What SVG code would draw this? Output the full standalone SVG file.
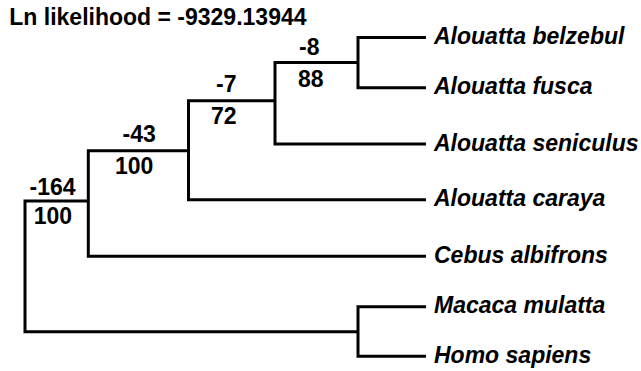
<svg xmlns="http://www.w3.org/2000/svg" width="641" height="371" viewBox="0 0 641 371">
<style>
.t{font-family:"Liberation Sans",Arial,sans-serif;font-weight:bold;font-size:23px;fill:#000}
.leaf{font-style:italic}
.br{fill:none;stroke:#000;stroke-width:3;stroke-linejoin:miter;stroke-linecap:butt}
</style>
<rect width="641" height="371" fill="#fff"/>
<text id="title" class="t" x="9.3" y="25">Ln likelihood = -9329.13944</text>
<g id="connectors">
<path class="br" d="M426,37.5 H358 V87.7 H426"/>
<path class="br" d="M358,62.5 H275 V144 H426"/>
<path class="br" d="M275,100.7 H188.5 V199.7 H426"/>
<path class="br" d="M188.5,150.7 H88.3 V256.3 H426"/>
<path class="br" d="M88.3,201 H25 V331.7 H358"/>
<path class="br" d="M426,306.7 H358 V356.3 H426"/>
</g>
<g id="node-belzebul-fusca"><text class="t" x="299" y="55">-8</text><text class="t" x="298" y="86.7">88</text></g>
<g id="node-seniculus"><text class="t" x="216" y="92.3">-7</text><text class="t" x="211" y="124">72</text></g>
<g id="node-caraya"><text class="t" x="122.5" y="142.3">-43</text><text class="t" x="115" y="174">100</text></g>
<g id="node-cebus"><text class="t" x="29.5" y="195">-164</text><text class="t" x="33.7" y="224.3">100</text></g>
<g id="leaf-belzebul"><text class="t leaf" x="434" y="43.8">Alouatta belzebul</text></g>
<g id="leaf-fusca"><text class="t leaf" x="434" y="94.3">Alouatta fusca</text></g>
<g id="leaf-seniculus"><text class="t leaf" x="434" y="150.5">Alouatta seniculus</text></g>
<g id="leaf-caraya"><text class="t leaf" x="434" y="206">Alouatta caraya</text></g>
<g id="leaf-cebus"><text class="t leaf" x="434" y="262.8">Cebus albifrons</text></g>
<g id="leaf-macaca"><text class="t leaf" x="434" y="313.2">Macaca mulatta</text></g>
<g id="leaf-homo"><text class="t leaf" x="434" y="362.8">Homo sapiens</text></g>
</svg>
